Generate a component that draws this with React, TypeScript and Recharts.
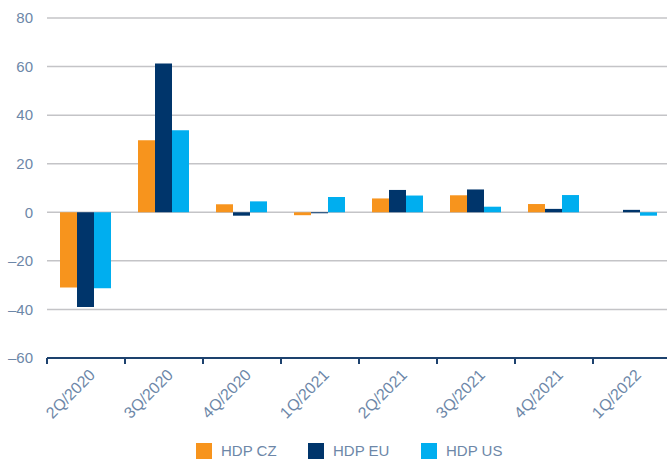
import React from 'react';
import { BarChart, Bar, XAxis, YAxis, CartesianGrid, Legend } from 'recharts';

const categories = ['2Q/2020', '3Q/2020', '4Q/2020', '1Q/2021', '2Q/2021', '3Q/2021', '4Q/2021', '1Q/2022'];
const hdpCz = [-31, 29.7, 3.3, -1.2, 5.7, 7.0, 3.4, 0];
const hdpEu = [-39, 61.3, -1.4, -0.4, 9.2, 9.4, 1.4, 1.0];
const hdpUs = [-31.3, 33.8, 4.5, 6.3, 6.9, 2.3, 7.1, -1.4];
const yTicks = [-60, -40, -20, 0, 20, 40, 60, 80];

const seriesNames = ['HDP CZ', 'HDP EU', 'HDP US'];
const COLORS = ['#f7941d', '#00356b', '#00aeef'];

const data = categories.map((q, i) => ({ q, cz: hdpCz[i], eu: hdpEu[i], us: hdpUs[i] }));

const W = 671;
const H = 459;
const Y_AXIS_W = 47;
const BAND = (W - Y_AXIS_W) / categories.length;
const TEXT = '#6d87a8';
const AXIS = '#1d426e';
const FONT = '"Liberation Sans", Arial, sans-serif';

const XTick = (props: any) => {
  const { x, y, payload } = props;
  const tx = x + 10;
  const ty = y + 18;
  return (
    <g>
      <line x1={x - BAND / 2} y1={y} x2={x - BAND / 2} y2={y + 6} stroke={AXIS} strokeWidth={2} />
      <text
        x={tx}
        y={ty}
        textAnchor="end"
        transform={`rotate(-45, ${tx}, ${ty})`}
        fill={TEXT}
        fontSize={16}
        fontFamily={FONT}
      >
        {payload.value}
      </text>
    </g>
  );
};

const LegendBox = () => {
  const lefts = [196, 308, 421];
  return (
    <div style={{ position: 'relative', height: 16, fontFamily: FONT, fontSize: 15, color: TEXT }}>
      {seriesNames.map((name, i) => (
        <div key={name} style={{ position: 'absolute', left: lefts[i], top: 0, display: 'flex', alignItems: 'center', height: 16 }}>
          <span style={{ width: 16, height: 16, background: COLORS[i], display: 'inline-block' }} />
          <span style={{ marginLeft: 9, lineHeight: '16px' }}>{name}</span>
        </div>
      ))}
    </div>
  );
};

const App: React.FC = () => {
  return (
    <div style={{ width: 667, height: H, overflow: 'hidden', background: '#fff' }}>
      <style>{`body{margin:0}`}</style>
      <BarChart width={W} height={H} data={data} margin={{ top: 18, right: 0, left: 0, bottom: 0 }} barCategoryGap={13} barGap={0}>
        <CartesianGrid vertical={false} stroke="#c4c4c7" strokeWidth={1.5} />
        <XAxis
          dataKey="q"
          height={85}
          axisLine={{ stroke: AXIS, strokeWidth: 2 }}
          tickLine={false}
          tickSize={0}
          tickMargin={0}
          interval={0}
          tick={<XTick />}
        />
        <YAxis
          width={Y_AXIS_W}
          domain={[-60, 80]}
          ticks={yTicks}
          axisLine={false}
          tickLine={false}
          tickSize={0}
          tickMargin={14}
          tick={{ fill: TEXT, fontSize: 15, fontFamily: FONT }}
          tickFormatter={(v: number) => (v < 0 ? `–${-v}` : `${v}`)}
        />
        <Legend verticalAlign="bottom" height={16} content={<LegendBox />} />
        <Bar dataKey="cz" name={seriesNames[0]} fill={COLORS[0]} isAnimationActive={false} />
        <Bar dataKey="eu" name={seriesNames[1]} fill={COLORS[1]} isAnimationActive={false} />
        <Bar dataKey="us" name={seriesNames[2]} fill={COLORS[2]} isAnimationActive={false} />
      </BarChart>
    </div>
  );
};

export default App;
